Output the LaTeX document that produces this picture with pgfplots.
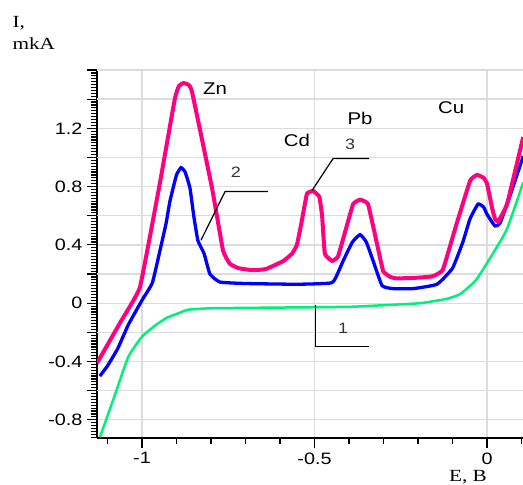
\documentclass[border=0pt]{standalone}
\usepackage{fontspec}
\setmainfont[FakeStretch=1.2]{Liberation Sans}
\newfontfamily\serifF[FakeStretch=1.25]{Liberation Serif}
\usepackage{pgfplots}
\pgfplotsset{compat=1.18}
\definecolor{cpink}{RGB}{255,0,128}
\definecolor{cblue}{RGB}{0,0,255}
\definecolor{cgreen}{RGB}{0,240,120}
\definecolor{cgrid}{RGB}{220,220,220}
\begin{document}
\begin{tikzpicture}
\begin{axis}[
  at={(0,0)}, anchor=south west,
  scale only axis, width=426pt, height=368pt,
  xmin=-1.1304, xmax=0.1043, ymin=-0.925, ymax=1.6,
  axis x line*=bottom, axis y line*=left,
  axis line style={line width=2.5pt, black, -},
  xtick={-1,-0.5,0}, xticklabels={-1,-0.5,0},
  minor xtick={-1.1,-0.9,-0.8,-0.7,-0.6,-0.4,-0.3,-0.2,-0.1,0.1},
  ytick={-0.8,-0.4,0,0.4,0.8,1.2},
  yticklabels={-0.8,-0.4,0,0.4,0.8,1.2},
  extra y ticks={-0.6,-0.2,0.2,0.6,1.0,1.4,1.6},
  extra y tick labels={},
  extra y tick style={grid=major},
  minor ytick={-0.92,-0.90,...,1.59},
  xmajorgrids, ymajorgrids,
  grid style={cgrid, line width=1.3pt},
  tick align=outside,
  major tick length=10pt, minor tick length=6pt,
  tick style={black, line width=1.2pt},
  xticklabel style={font=\fontsize{16.5}{16.5}\selectfont, yshift=-1pt},
  yticklabel style={font=\fontsize{16.5}{16.5}\selectfont, xshift=-1pt},
  clip=true,
]
\addplot[cgreen, line width=2.5pt, smooth, tension=0.3] coordinates {
(-1.122,-0.92) (-1.08,-0.64) (-1.04,-0.37) (-1.0,-0.23) (-0.96,-0.15)
(-0.928,-0.10) (-0.89,-0.065) (-0.867,-0.045) (-0.80,-0.035) (-0.60,-0.03)
(-0.40,-0.025) (-0.31,-0.015) (-0.194,0.0) (-0.116,0.03) (-0.08,0.06)
(-0.058,0.10) (-0.035,0.15) (-0.02,0.20) (0.017,0.34) (0.058,0.51) (0.105,0.83)
};
\addplot[cblue, line width=3.3pt, smooth, tension=0.25] coordinates {
(-1.122,-0.50) (-1.10,-0.43) (-1.07,-0.31) (-1.04,-0.15) (-1.0,0.02)
(-0.97,0.14) (-0.948,0.36) (-0.93,0.55) (-0.919,0.70) (-0.90,0.88)
(-0.887,0.93) (-0.875,0.90) (-0.861,0.79) (-0.85,0.60) (-0.838,0.43)
(-0.82,0.34) (-0.803,0.20) (-0.774,0.145) (-0.70,0.135) (-0.55,0.13)
(-0.45,0.14) (-0.43,0.22) (-0.417,0.29) (-0.39,0.42) (-0.368,0.47)
(-0.35,0.42) (-0.33,0.29) (-0.304,0.12) (-0.272,0.10) (-0.214,0.10)
(-0.145,0.13) (-0.10,0.24) (-0.07,0.42) (-0.049,0.58) (-0.026,0.68)
(-0.010,0.66) (0.0,0.61) (0.023,0.53) (0.038,0.55) (0.07,0.76) (0.105,1.01)
};
\addplot[cpink, line width=4pt, smooth, tension=0.2] coordinates {
(-1.13,-0.41) (-1.06,-0.12) (-1.006,0.11) (-0.95,0.80)
(-0.905,1.40) (-0.893,1.49) (-0.88,1.51) (-0.866,1.50)
(-0.855,1.45) (-0.797,0.79) (-0.765,0.36) (-0.745,0.27)
(-0.72,0.24) (-0.678,0.226) (-0.64,0.235) (-0.59,0.29) (-0.565,0.34)
(-0.551,0.40) (-0.538,0.55) (-0.522,0.75) (-0.504,0.77) (-0.486,0.73)
(-0.478,0.60) (-0.47,0.34) (-0.449,0.29) (-0.432,0.32) (-0.41,0.50)
(-0.388,0.68) (-0.368,0.71) (-0.345,0.68) (-0.32,0.42) (-0.301,0.22)
(-0.28,0.18) (-0.261,0.17) (-0.20,0.175) (-0.157,0.185) (-0.128,0.23)
(-0.09,0.53) (-0.049,0.84) (-0.029,0.88) (-0.010,0.86) (0.0,0.82)
(0.015,0.65) (0.023,0.58) (0.032,0.56) (0.058,0.68) (0.105,1.14)
};
% leader lines and labels
\draw[black, line width=1.2pt] (axis cs:-0.829,0.432) -- (axis cs:-0.759,0.767) -- (axis cs:-0.635,0.767);
\draw[black, line width=1.2pt] (axis cs:-0.507,0.774) -- (axis cs:-0.446,0.993) -- (axis cs:-0.342,0.993);
\draw[black, line width=1.2pt] (axis cs:-0.496,-0.014) -- (axis cs:-0.496,-0.295) -- (axis cs:-0.342,-0.295);
\node[font=\fontsize{15}{15}\selectfont, text=black!80] at (axis cs:-0.728,0.897) {2};
\node[font=\fontsize{15}{15}\selectfont, text=black!80] at (axis cs:-0.397,1.089) {3};
\node[font=\fontsize{15}{15}\selectfont, text=black!80] at (axis cs:-0.417,-0.171) {1};
\node[font=\fontsize{17}{17}\selectfont] at (axis cs:-0.788,1.473) {Zn};
\node[font=\fontsize{17}{17}\selectfont] at (axis cs:-0.551,1.116) {Cd};
\node[font=\fontsize{17}{17}\selectfont] at (axis cs:-0.368,1.267) {Pb};
\node[font=\fontsize{17}{17}\selectfont] at (axis cs:-0.104,1.342) {Cu};
\end{axis}
\node[anchor=west, font=\serifF\fontsize{17}{17}\selectfont] at (-88pt,415pt) {I,};
\node[anchor=west, font=\serifF\fontsize{17}{17}\selectfont] at (-88pt,394pt) {mkA};
\node[font=\serifF\fontsize{17}{17}\selectfont] at (371pt,-39pt) {E, B};
\pgfresetboundingbox
\useasboundingbox (-97pt,-47pt) rectangle (426pt,438pt);
\end{tikzpicture}
\end{document}
